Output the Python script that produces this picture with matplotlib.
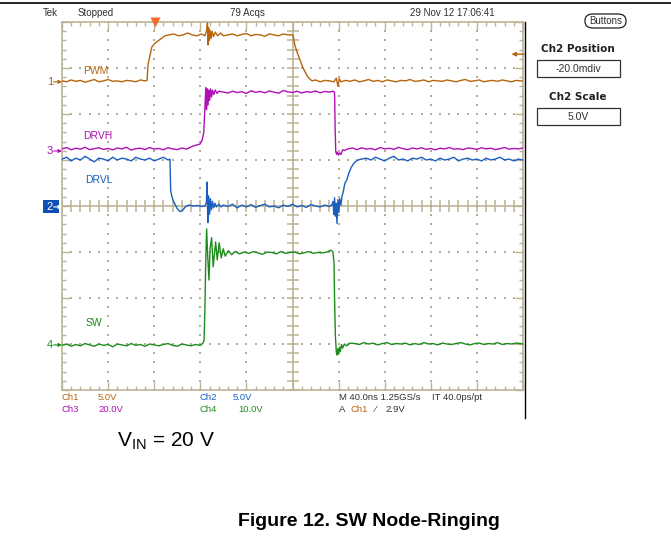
import matplotlib
matplotlib.use('Agg')
import matplotlib.pyplot as plt
import numpy as np
from matplotlib.patches import FancyBboxPatch, Rectangle
from matplotlib.lines import Line2D

plt.rcParams['font.family'] = ['DejaVu Sans']
plt.rcParams['mathtext.fontset'] = 'custom'
plt.rcParams['mathtext.rm'] = 'Liberation Sans'

# ---------------- data (time in ns, values in volts) ----------------
PWM_t = list(range(0, 73, 4)) + [73.8, 74.6, 76.4, 78, 80.7, 85, 89.4, 93, 97, 101, 105, 109, 113, 117, 121, 124,
        125.5, 126.2, 126.7, 127.2, 127.8, 128.5, 129.3, 130.2, 131.5, 133, 135, 137.5, 140] + \
        list(range(144, 197, 4)) + [200.4, 202, 204, 206.5, 208.5, 210.8, 213, 215, 217, 220, 224, 228, 232, 236,
        238, 239.5, 240.5, 242] + list(range(246, 399, 4)) + [400]
PWM_v = [0.1, 0.0, 0.2, 0.05, 0.15, -0.05, 0.1, 0.25, 0.0, 0.1, 0.25, 0.05, 0.1, 0.0, 0.15, 0.1, 0.0, 0.2, 0.1,
         0.15, 1.85, 2.9, 3.8, 4.2, 4.6, 5.0, 5.1, 5.2, 5.0, 5.1, 5.3, 5.1, 5.0, 5.2, 5.0,
         5.6, 6.4, 4.0, 5.9, 4.5, 5.6, 4.7, 5.5, 4.9, 5.4, 5.0, 5.3, 5.0,
         5.1, 5.2, 5.0, 5.15, 5.25, 5.0, 5.15, 5.1, 4.95, 5.2, 5.1, 5.0, 5.2, 5.1,
         5.1, 4.0, 3.2, 2.4, 1.7, 1.1, 0.6, 0.3, 0.1, 0.2, 0.0, 0.15, 0.1, 0.0, 0.4, -0.5, 0.35, 0.0,
         0.15, 0.05, 0.2, 0.0, 0.1, 0.25, 0.05, 0.15, 0.0, 0.2, 0.1, 0.0, 0.15, 0.1, 0.25, 0.05, 0.1, 0.2, 0.0,
         0.15, 0.1, 0.05, 0.2, 0.1, 0.0, 0.15, 0.25, 0.05, 0.1, 0.2, 0.0, 0.1, 0.15, 0.05, 0.2, 0.1, 0.0, 0.15,
         0.1, 0.1]

DRVH_t = list(range(0, 117, 4)) + [119.7, 121.5, 123, 124.1, 124.8, 125.4, 126, 126.7, 127.4, 128.1, 128.9, 129.7,
         130.6, 131.6, 133, 134.5, 136] + list(range(140, 233, 4)) + [235, 236.5, 237, 237.5, 238.2, 239, 240, 241,
         242, 243.5, 245] + list(range(248, 401, 4))
DRVH_v = [0.9, 1.5, 0.5, 1.2, 0.8, 1.6, 0.6, 1.0, 1.4, 0.7, 1.1, 0.5, 1.3, 0.9, 1.6, 0.4, 1.0, 1.2, 0.6, 1.5,
          0.8, 1.1, 0.5, 1.4, 0.9, 0.6, 1.3, 0.8, 1.8, 2.5,
          3.0, 4.5, 8, 20, 27.5, 18, 27, 20, 26.5, 22, 27, 23.5, 26.5, 24.5, 26.5, 25, 26,
          25.6, 25.2, 26.0, 25.4, 25.8, 25.0, 26.2, 25.5, 25.9, 25.3, 26.1, 25.6, 25.1, 26.3, 25.7, 25.4, 26.0,
          25.2, 25.8, 25.5, 26.1, 25.3, 25.9, 25.6,
          26, 25.5, 10, 0, -1.5, -0.5, -1.8, -0.8, -1.5, 0.5, 0.2,
          0.9, 1.3, 0.6, 1.4, 0.8, 1.1, 0.5, 1.5, 0.9, 1.2, 0.7, 1.6, 1.0, 0.6, 1.3, 0.9, 1.4, 0.7, 1.1, 0.5,
          1.2, 0.9, 1.5, 0.8, 1.0, 0.6, 1.3, 1.1, 0.7, 1.4, 0.9, 1.2, 0.6, 1.0, 1.5, 0.8, 1.1, 0.9, 1.3]

DRVL_t = list(range(0, 93, 4)) + [93.7, 94.3, 95.2, 96.3, 98, 100, 102.4, 104.5, 107, 110, 114, 118, 121, 124,
         125.3, 125.9, 126.5, 127.2, 128, 128.8, 129.7, 130.6, 131.6, 132.8, 134, 136, 138, 140] + \
         list(range(144, 233, 4)) + [234, 235.2, 235.8, 236.5, 237.2, 237.8, 238.6, 239.4, 240.2, 241, 242, 243,
         244, 245, 245.6, 247, 249, 251, 253, 255, 257, 260] + list(range(264, 401, 4))
DRVL_v = [5.2, 5.4, 5.0, 5.3, 5.1, 5.5, 5.2, 4.9, 5.3, 5.2, 5.0, 5.4, 5.1, 5.3, 5.2, 5.0, 5.4, 5.2, 5.1, 5.3,
          5.0, 5.2, 5.4, 5.1,
          5.2, 1.8, 1.2, 0.75, 0.3, -0.2, -0.5, -0.4, 0.0, 0.2, 0.1, 0.15, 0.05, 0.1,
          0.5, 2.7, -1.7, 1.2, -0.8, 0.9, -0.3, 0.6, -0.1, 0.4, 0.0, 0.3, 0.0, 0.2,
          0.05, 0.3, -0.1, 0.2, 0.0, 0.25, -0.05, 0.15, 0.3, 0.0, 0.1, -0.1, 0.2, 0.05, 0.3, 0.0, 0.15, -0.05,
          0.25, 0.1, 0.0, 0.2, 0.05,
          0.2, 0.6, -0.8, 1.0, -1.0, 0.4, -1.8, 0.8, -0.6, 0.9, 0.2, 1.2, 1.6, 2.3, 2.6, 2.9, 3.7, 4.3, 4.7,
          4.95, 5.1, 5.2,
          5.3, 5.1, 5.4, 5.2, 5.0, 5.3, 5.5, 5.1, 5.2, 5.0, 5.3, 5.2, 5.4, 5.1, 5.2, 5.0, 5.3, 5.1, 5.2, 5.4,
          5.0, 5.2, 5.3, 5.1, 5.2, 5.0, 5.3, 5.1, 5.2, 5.4, 5.1, 5.2, 5.0, 5.2, 5.1]

SW_t = list(range(0, 121, 4)) + [122, 123.3, 124, 124.7, 125.5, 126.3, 127.5, 128.5, 129.8, 131.2, 133.3, 134.7,
       136.4, 138.2, 139.9, 141.6, 144.3, 147.2, 150] + list(range(154, 231, 4)) + [233, 235, 236, 236.5, 237.2,
       238, 238.6, 239.3, 240, 240.8, 241.6, 242.5, 243.5, 245, 247, 250] + list(range(254, 399, 4)) + [400]
SW_v = [-0.1, 0.2, -0.3, 0.1, -0.2, 0.3, 0.0, -0.3, 0.2, -0.1, 0.1, -0.4, 0.2, 0.0, -0.2, 0.3, -0.1, 0.1, -0.3,
        0.2, 0.0, -0.2, 0.1, 0.3, -0.1, -0.3, 0.2, 0.0, -0.2, 0.1, -0.1,
        0.3, 1.0, 8, 18, 25.2, 20, 14.1, 21, 23.3, 17, 22.4, 18.5, 22.2, 18.9, 20.9, 19.3, 20.5, 19.6, 20.3,
        19.8, 20.2, 19.9, 20.3, 20.0, 19.7, 20.2, 20.1, 19.8, 20.3, 19.9, 20.1, 20.2, 19.8, 20.0, 20.3, 19.9,
        20.1, 20.0, 20.2,
        20.6, 20.3, 18, 10, 2, -1.5, -2.2, -0.8, -2.0, -0.5, -1.4, 0.1, -0.7, 0.2, -0.2, 0.4,
        0.3, 0.1, 0.5, 0.2, 0.4, 0.0, 0.3, 0.5, 0.1, 0.3, 0.2, 0.4, 0.0, 0.3, 0.1, 0.5, 0.2, 0.3, 0.0, 0.4,
        0.2, 0.1, 0.3, 0.5, 0.2, 0.0, 0.3, 0.4, 0.1, 0.3, 0.2, 0.5, 0.1, 0.3, 0.2, 0.4, 0.3,
        0.2]

channel_names = ['PWM', 'DRVH', 'DRVL', 'SW']
channel_nums = ['1', '3', '2', '4']
volts_per_div = [5.0, 20.0, 5.0, 10.0]
ground_div = [2.70, 1.196, -0.02, -3.02]
colors = ['#b8640c', '#b010b4', '#1a5ec0', '#1c8c1c']
series_t = [PWM_t, DRVH_t, DRVL_t, SW_t]
series_v = [PWM_v, DRVH_v, DRVL_v, SW_v]
label_pos = [(18, 2.93), (18.5, 1.52), (20, 0.57), (20.5, -2.54)]

# ---------------- figure ----------------
W, H = 671, 539
fig = plt.figure(figsize=(W / 100, H / 100), dpi=100)
fig.patch.set_facecolor('white')

def fx(x):
    return x / W

def fy(y):
    return 1 - y / H

SCOPE = 'Liberation Sans'

L, T, R, B = 62, 22, 523, 390
ax = fig.add_axes([fx(L), fy(B), (R - L) / W, (B - T) / H])
ax.set_xlim(0, 400)
ax.set_ylim(-4, 4)
GRID = '#bcb395'
DOT = '#b4ad96'
for s in ax.spines.values():
    s.set_color(GRID)
    s.set_linewidth(1.2)
ax.set_xticks(np.arange(0, 401, 40))
ax.set_xticks(np.arange(0, 401, 8), minor=True)
ax.set_yticks(np.arange(-4, 4.01, 1))
ax.set_yticks(np.arange(-4, 4.01, 0.2), minor=True)
ax.tick_params(which='both', direction='in', color=GRID, top=True, right=True,
               labelleft=False, labelbottom=False, width=1)
ax.tick_params(which='major', length=6)
ax.tick_params(which='minor', length=3)

# center cross with ticks
ax.axhline(0, color=GRID, lw=1.2, zorder=1)
ax.axvline(200, color=GRID, lw=1.2, zorder=1)
xm = np.arange(0, 401, 8)
ym = np.arange(-4, 4.01, 0.2)
ax.plot(xm, np.zeros_like(xm), ls='', marker='|', ms=8, mew=1.1, color=GRID, zorder=1)
ax.plot(np.full_like(ym, 200), ym, ls='', marker='_', ms=9, mew=1.1, color=GRID, zorder=1)
# dotted grid
for gx in range(40, 400, 40):
    if gx == 200:
        continue
    ax.scatter(np.full_like(ym, gx), ym, s=1.6, color=DOT, lw=0, zorder=1, marker='s')
for gy in range(-3, 4):
    if gy == 0:
        continue
    ax.scatter(xm, np.full(len(xm), gy), s=1.6, color=DOT, lw=0, zorder=1, marker='s')

# traces
for t, v, sc, g, c in zip(series_t, series_v, volts_per_div, ground_div, colors):
    ax.plot(t, g + np.array(v) / sc, color=c, lw=1.0, zorder=3, solid_joinstyle='round')

# channel names
for (lx, ly), n, c in zip(label_pos, channel_names, colors):
    ax.text(lx, ly, n, color=c, fontsize=7.5, family=SCOPE, va='center', ha='left', zorder=4)

# ground markers
for num, g, c in zip(channel_nums, ground_div, colors):
    if num == '2':
        ax.add_patch(Rectangle((fx(43), fy(213)), 16 / W, 13 / H, transform=fig.transFigure,
                               facecolor='#1050b4', edgecolor='none', clip_on=False, zorder=6))
        tc = 'white'
    else:
        tc = c
    ax.annotate(num, xy=(-9, g), xycoords=('axes pixels', 'data'), color=tc, fontsize=8, family=SCOPE,
                ha='right', va='center', annotation_clip=False, zorder=7)
    ax.annotate('', xy=(0, g), xycoords=('axes fraction', 'data'), xytext=(-6, 0),
                textcoords='offset points',
                arrowprops=dict(arrowstyle='-|>', color=tc, lw=0.8, mutation_scale=5,
                                shrinkA=0, shrinkB=0), annotation_clip=False, zorder=7)

# trigger position marker
ax.plot([80.7], [4], marker='v', color='#f46a2c', ms=7, clip_on=False, zorder=5, mec='none')
# ch1 level arrow on right
ax.annotate('', xy=(390, 3.30), xytext=(401, 3.30),
            arrowprops=dict(arrowstyle='-|>', color='#b8640c', lw=1.0, mutation_scale=6,
                            shrinkA=0, shrinkB=0), annotation_clip=False)

# frame lines
fig.add_artist(Line2D([0, 1], [fy(3), fy(3)], transform=fig.transFigure, color='black', lw=1.2))
fig.add_artist(Line2D([fx(525), fx(525)], [fy(22), fy(418)], transform=fig.transFigure, color='black', lw=1.0))

# top status text
TXT = '#303030'
fs = 7
fig.text(fx(43), fy(13), 'Tek', fontsize=fs, family=SCOPE, color=TXT, va='center')
fig.text(fx(78), fy(13), 'Stopped', fontsize=fs, family=SCOPE, color=TXT, va='center')
fig.text(fx(247), fy(13), '79 Acqs', fontsize=fs, family=SCOPE, color=TXT, va='center', ha='center')
fig.text(fx(410), fy(13), '29 Nov 12 17:06:41', fontsize=fs, family=SCOPE, color=TXT, va='center')

# right panel
fig.patches.append(FancyBboxPatch((fx(585), fy(28)), 41 / W, 14 / H, transform=fig.transFigure,
                                  boxstyle='round,pad=0.0,rounding_size=0.012', facecolor='white',
                                  edgecolor='#202020', lw=0.9))
fig.text(fx(605.5), fy(21), 'Buttons', fontsize=7, family=SCOPE, color=TXT, ha='center', va='center')
fig.text(fx(578), fy(49), 'Ch2 Position', fontsize=7.5, fontweight='bold', color='#202020', ha='center', va='center')
fig.patches.append(Rectangle((fx(537), fy(77)), 83 / W, 17 / H, transform=fig.transFigure,
                             facecolor='white', edgecolor='#303030', lw=0.9))
fig.text(fx(578.5), fy(68.5), '-20.0mdiv', fontsize=7.5, family=SCOPE, color=TXT, ha='center', va='center')
fig.text(fx(578), fy(97), 'Ch2 Scale', fontsize=7.5, fontweight='bold', color='#202020', ha='center', va='center')
fig.patches.append(Rectangle((fx(537), fy(125)), 83 / W, 17 / H, transform=fig.transFigure,
                             facecolor='white', edgecolor='#303030', lw=0.9))
fig.text(fx(578.5), fy(116.5), '5.0V', fontsize=7.5, family=SCOPE, color=TXT, ha='center', va='center')

# bottom readouts
r1, r2 = 398, 409
def rt(x, y, s, c):
    fig.text(fx(x), fy(y), s, fontsize=6.8, family=SCOPE, color=c, va='center')
rt(62, r1, 'Ch1', colors[0]); rt(98, r1, '5.0V', colors[0])
rt(62, r2, 'Ch3', colors[1]); rt(98, r2, '20.0V', colors[1])
rt(200, r1, 'Ch2', colors[2]); rt(233, r1, '5.0V', colors[2])
rt(200, r2, 'Ch4', colors[3]); rt(238, r2, '10.0V', colors[3])
rt(339, r1, 'M 40.0ns 1.25GS/s', TXT)
rt(432, r1, 'IT 40.0ps/pt', TXT)
rt(339, r2, 'A', TXT)
rt(351, r2, 'Ch1', colors[0])
rt(375, r2, '\u2215', TXT)
rt(385, r2, '2.9V', TXT)

# captions
fig.text(fx(117), fy(441), r'V$_{\mathrm{IN}}$ = 20 V', fontsize=15, family='Liberation Sans',
         color='black', va='center')
fig.text(fx(369), fy(521), 'Figure 12. SW Node-Ringing', fontsize=14, family='Liberation Sans',
         fontweight='bold', color='black', ha='center', va='center')

fig.savefig('out.png', dpi=100, facecolor='white')
